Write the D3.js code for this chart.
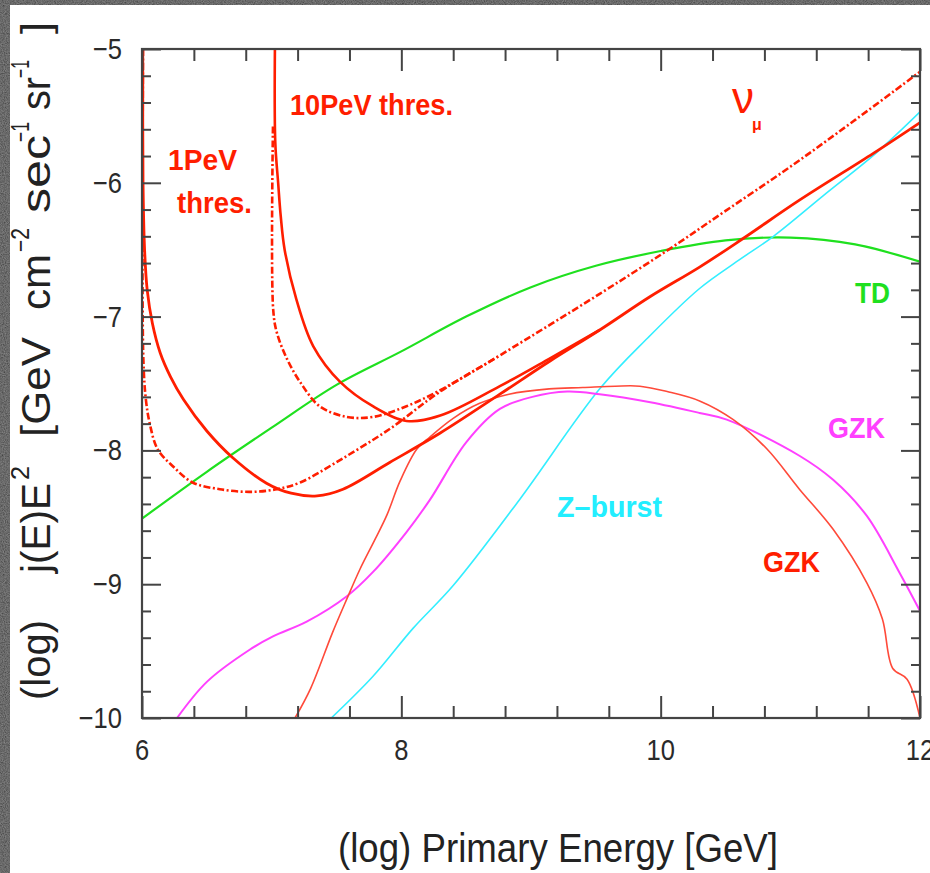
<!DOCTYPE html>
<html>
<head>
<meta charset="utf-8">
<script src="https://cdn.jsdelivr.net/npm/d3@7"></script>
<style>
html,body{margin:0;padding:0;background:#3a3a3a;}
svg{display:block;}
text{font-family:"Liberation Sans",Arial,Helvetica,sans-serif;}
</style>
</head>
<body>
<svg id="chart" width="930" height="873"></svg>
<script>
// ---------- data (log E [GeV], log j(E)E^2) ----------
const xMajorTicks = [6, 8, 10, 12];
const xMinorTicks = [6.4, 6.8, 7.2, 7.6, 8.4, 8.8, 9.2, 9.6, 10.4, 10.8, 11.2, 11.6];
const yMajorTicks = [-5, -6, -7, -8, -9, -10];
const yMinorTicks = [-5.2,-5.4,-5.6,-5.8,-6.2,-6.4,-6.6,-6.8,-7.2,-7.4,-7.6,-7.8,-8.2,-8.4,-8.6,-8.8,-9.2,-9.4,-9.6,-9.8];
const xTickLabels = ["6", "8", "10", "12"];
const yTickLabels = ["\u22125", "\u22126", "\u22127", "\u22128", "\u22129", "\u221210"];

// TD (green)
const tdX = [6.0, 6.5, 7.0, 7.5, 8.0, 8.5, 9.0, 9.5, 10.0, 10.5, 11.0, 11.5, 12.0];
const tdY = [-8.51, -8.16, -7.83, -7.51, -7.26, -7.00, -6.78, -6.62, -6.51, -6.43, -6.41, -6.46, -6.59];

// Z-burst (cyan)
const zbX = [7.46, 7.78, 8.09, 8.40, 8.91, 9.53, 9.90, 10.30, 10.60, 10.87, 11.25, 11.67, 12.0];
const zbY = [-10.0, -9.69, -9.33, -9.01, -8.37, -7.54, -7.16, -6.79, -6.58, -6.40, -6.10, -5.77, -5.47];

// GZK (magenta)
const gzkMX = [6.27, 6.50, 6.83, 7.01, 7.27, 7.58, 7.78, 8.04, 8.22, 8.50, 8.76, 9.01, 9.28, 9.53, 9.92, 10.30, 10.51, 11.07, 11.33, 11.59, 11.84, 12.0];
const gzkMY = [-10.0, -9.73, -9.49, -9.39, -9.28, -9.09, -8.91, -8.61, -8.37, -7.94, -7.69, -7.60, -7.56, -7.58, -7.64, -7.72, -7.77, -8.04, -8.22, -8.49, -8.91, -9.20];

// GZK (red, thin)
const gzkRX = [7.18, 7.30, 7.47, 7.58, 7.68, 7.80, 7.89, 7.99, 8.12, 8.22, 8.40, 8.60, 8.83, 9.14, 9.40, 9.65, 9.84, 10.05, 10.30, 10.56, 10.82, 11.07, 11.33, 11.59, 11.71, 11.79, 11.90, 12.0];
const gzkRY = [-10.0, -9.78, -9.36, -9.11, -8.89, -8.66, -8.48, -8.23, -7.99, -7.90, -7.76, -7.65, -7.58, -7.54, -7.53, -7.52, -7.52, -7.56, -7.63, -7.77, -7.99, -8.29, -8.59, -8.99, -9.26, -9.63, -9.71, -10.0];

// 1 PeV threshold, solid
const pev1SolidX = [6.006, 6.008, 6.02, 6.04, 6.08, 6.14, 6.22, 6.32, 6.50, 6.70, 6.96, 7.15, 7.35, 7.55, 7.91, 8.30, 8.76, 9.15, 9.53, 9.92, 10.30, 10.63, 11.07, 11.64, 12.0];
const pev1SolidY = [-5.0, -6.0, -6.50, -6.80, -7.05, -7.27, -7.45, -7.62, -7.855, -8.055, -8.245, -8.32, -8.34, -8.29, -8.09, -7.87, -7.58, -7.33, -7.10, -6.85, -6.63, -6.42, -6.13, -5.78, -5.55];

// 1 PeV threshold, dash-dot
const pev1DashX = [6.008, 6.01, 6.03, 6.06, 6.12, 6.24, 6.39, 6.60, 6.83, 7.04, 7.22, 7.53, 7.91, 8.30, 8.76, 9.53, 10.06, 10.50, 11.00, 11.50, 12.0];
const pev1DashY = [-5.0, -7.3, -7.62, -7.80, -7.99, -8.12, -8.24, -8.29, -8.31, -8.29, -8.24, -8.07, -7.84, -7.56, -7.29, -6.83, -6.50, -6.21, -5.88, -5.53, -5.17];

// 10 PeV threshold, solid
const pev10SolidX = [7.025, 7.028, 7.05, 7.07, 7.10, 7.19, 7.32, 7.53, 7.78, 8.04, 8.30, 8.76, 9.15, 9.53];
const pev10SolidY = [-5.0, -5.70, -6.00, -6.25, -6.50, -6.87, -7.22, -7.49, -7.67, -7.78, -7.74, -7.52, -7.31, -7.10];

// 10 PeV threshold, dash-dot
const pev10DashX = [7.01, 7.012, 7.04, 7.12, 7.22, 7.37, 7.58, 7.78, 8.04, 8.30, 8.76];
const pev10DashY = [-5.58, -6.95, -7.12, -7.32, -7.49, -7.67, -7.75, -7.75, -7.67, -7.55, -7.29];

// ---------- drawing ----------
const svg = d3.select("#chart");
const W = 930, H = 873;
const M = {left: 142, right: 920, top: 49, bottom: 718};

// background: dark textured border + white page
const defs = svg.append("defs");
const f = defs.append("filter").attr("id", "noise").attr("x", 0).attr("y", 0).attr("width", "100%").attr("height", "100%");
f.append("feTurbulence").attr("type", "fractalNoise").attr("baseFrequency", 0.9).attr("numOctaves", 2).attr("seed", 3).attr("result", "n");
f.append("feColorMatrix").attr("in", "n").attr("type", "matrix")
  .attr("values", "0 0 0 0 0.4  0 0 0 0 0.4  0 0 0 0 0.4  0 0 0 0.6 0").attr("result", "g");
f.append("feComposite").attr("in", "g").attr("in2", "SourceGraphic").attr("operator", "over");

svg.append("rect").attr("width", W).attr("height", H).attr("fill", "#333");
svg.append("rect").attr("width", W).attr("height", H).attr("fill", "#333").attr("filter", "url(#noise)");
svg.append("rect").attr("x", 10).attr("y", 5).attr("width", W - 10).attr("height", H - 5).attr("fill", "#ffffff");

const x = d3.scaleLinear().domain([6, 12]).range([M.left, M.right]);
const y = d3.scaleLinear().domain([-10, -5]).range([M.bottom, M.top]);

const clip = defs.append("clipPath").attr("id", "plotclip");
clip.append("rect").attr("x", M.left).attr("y", M.top).attr("width", M.right - M.left).attr("height", M.bottom - M.top);

const plot = svg.append("g").attr("clip-path", "url(#plotclip)");
const line = d3.line().x(d => x(d[0])).y(d => y(d[1])).curve(d3.curveCatmullRom.alpha(0.5));
const zip = (a, b) => a.map((v, i) => [v, b[i]]);

function curve(xs, ys, color, width, dash) {
  const p = plot.append("path").datum(zip(xs, ys))
    .attr("d", line).attr("fill", "none").attr("stroke", color)
    .attr("stroke-width", width).attr("stroke-linejoin", "round");
  if (dash) p.attr("stroke-dasharray", dash);
  return p;
}

const RED = "#ff1e00";
const GREEN = "#1fe01f";
const MAGENTA = "#ff40ff";
const CYAN = "#33eeff";
curve(tdX, tdY, GREEN, 2.2);
curve(zbX, zbY, CYAN, 1.6);
curve(gzkMX, gzkMY, MAGENTA, 2);
curve(gzkRX, gzkRY, "#ff4a3a", 1.6);
curve(pev1DashX, pev1DashY, RED, 2.6, "7,2.5,2,2.5");
curve(pev10DashX, pev10DashY, RED, 2.6, "7,2.5,2,2.5");
curve(pev1SolidX, pev1SolidY, RED, 2.8);
curve(pev10SolidX, pev10SolidY, RED, 2.6);

// ---------- axes ----------
const axG = svg.append("g");
const AX = "#444";
function styleAxis(g) {
  g.select(".domain").remove();
  g.selectAll(".tick line").attr("stroke", AX).attr("stroke-width", 2);
  g.selectAll(".tick text").remove();
}
axG.append("g").attr("transform", `translate(0,${M.bottom})`)
  .call(d3.axisBottom(x).tickValues(xMajorTicks).tickSize(-22)).call(styleAxis);
axG.append("g").attr("transform", `translate(0,${M.bottom})`)
  .call(d3.axisBottom(x).tickValues(xMinorTicks).tickSize(-12)).call(styleAxis);
axG.append("g").attr("transform", `translate(0,${M.top})`)
  .call(d3.axisTop(x).tickValues(xMajorTicks).tickSize(-22)).call(styleAxis);
axG.append("g").attr("transform", `translate(0,${M.top})`)
  .call(d3.axisTop(x).tickValues(xMinorTicks).tickSize(-12)).call(styleAxis);
axG.append("g").attr("transform", `translate(${M.left},0)`)
  .call(d3.axisLeft(y).tickValues(yMajorTicks).tickSize(-19)).call(styleAxis);
axG.append("g").attr("transform", `translate(${M.left},0)`)
  .call(d3.axisLeft(y).tickValues(yMinorTicks).tickSize(-9)).call(styleAxis);
axG.append("g").attr("transform", `translate(${M.right},0)`)
  .call(d3.axisRight(y).tickValues(yMajorTicks).tickSize(-19)).call(styleAxis);
axG.append("g").attr("transform", `translate(${M.right},0)`)
  .call(d3.axisRight(y).tickValues(yMinorTicks).tickSize(-9)).call(styleAxis);
axG.append("rect").attr("x", M.left).attr("y", M.top).attr("width", M.right - M.left).attr("height", M.bottom - M.top)
  .attr("fill", "none").attr("stroke", AX).attr("stroke-width", 2.2);

// tick labels
const TL = "#2a2a2a";
svg.append("g").selectAll("text").data(yMajorTicks).join("text")
  .attr("transform", d => `translate(122,${y(d) + 10}) scale(0.88,1)`)
  .attr("text-anchor", "end").attr("font-size", 29).attr("fill", TL)
  .text((d, i) => yTickLabels[i]);
svg.append("g").selectAll("text").data(xMajorTicks).join("text")
  .attr("transform", d => `translate(${x(d)},760) scale(0.88,1)`)
  .attr("text-anchor", "middle").attr("font-size", 29).attr("fill", TL)
  .text((d, i) => xTickLabels[i]);

// x title
svg.append("text").attr("x", 338).attr("y", 862).attr("font-size", 40).attr("fill", "#222")
  .attr("textLength", 440).attr("lengthAdjust", "spacingAndGlyphs")
  .text("(log) Primary Energy [GeV]");

// y title (rotated); each piece placed along the axis
const ytG = svg.append("g").attr("transform", "translate(50,700) rotate(-90)");
function seg(t, pos, len, sup) {
  const s = ytG.append("text").attr("x", pos).attr("y", sup ? -21 : 0)
    .attr("font-size", sup ? 25 : 40).attr("fill", "#222")
    .attr("textLength", len).attr("lengthAdjust", "spacingAndGlyphs").text(t);
  return s;
}
seg("(log)", 0, 80);
seg("j(E)E", 127, 90);
seg("2", 220, 14, true);
seg("[GeV", 263, 100);
seg("cm", 390, 56);
seg("\u22122", 448, 24, true);
seg("sec", 487, 78);
seg("\u22121", 558, 20, true);
seg("sr", 590, 33);
seg("\u22121", 622, 18, true);
seg("]", 666, 12);

// in-plot labels
function label(t, x0, y0, len, color, size) {
  return svg.append("text").attr("x", x0).attr("y", y0).attr("font-size", size || 30)
    .attr("font-weight", "bold").attr("fill", color)
    .attr("textLength", len).attr("lengthAdjust", "spacingAndGlyphs").text(t);
}
label("10PeV thres.", 290, 115, 163, RED);
label("1PeV", 168, 170, 69, RED);
label("thres.", 177, 213, 75, RED);
label("TD", 855, 303, 35, GREEN);
label("GZK", 828, 438, 57, MAGENTA);
label("GZK", 763, 572, 57, RED);
label("Z\u2013burst", 557, 517, 105, "#22eeff");
svg.append("text").attr("x", 732).attr("y", 113).attr("font-size", 44).attr("fill", RED)
  .attr("font-family", "DejaVu Sans").attr("textLength", 22).attr("lengthAdjust", "spacingAndGlyphs").text("\u03bd");
svg.append("text").attr("x", 752).attr("y", 130).attr("font-size", 16).attr("font-weight", "bold").attr("fill", RED)
  .attr("font-family", "DejaVu Sans").text("\u03bc");
</script>
</body>
</html>
